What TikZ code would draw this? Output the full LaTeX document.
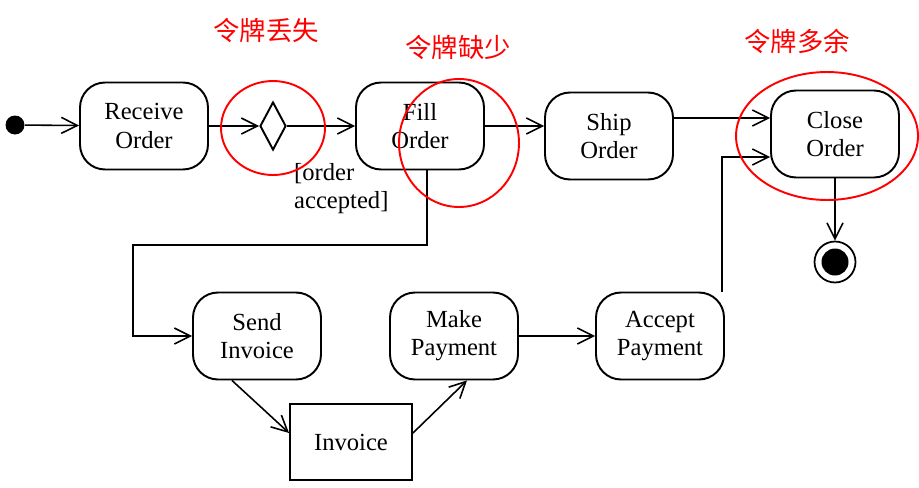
\documentclass[tikz,border=0pt]{standalone}
\usepackage{fontspec}
\setmainfont{Liberation Serif}
\newfontfamily\cjk{Noto Sans CJK SC}
\usepackage{xcolor}
\usepackage{tikz}
\usetikzlibrary{arrows.meta,shapes.geometric}
\definecolor{markred}{HTML}{FF0000}

\begin{document}
\begin{tikzpicture}[
  x=0.02cm, y=-0.02cm,
  activity/.style={
    rectangle,
    rounded corners=0.5cm,
    draw=black,
    line width=1.1pt,
    align=center,
    minimum width=2.56cm,
    minimum height=1.74cm,
    font=\fontsize{14}{16}\selectfont
  },
  objectbox/.style={
    rectangle,
    draw=black,
    line width=1.1pt,
    minimum width=2.44cm,
    minimum height=1.52cm,
    font=\fontsize{14}{16}\selectfont
  },
  decision/.style={
    diamond,
    draw=black,
    line width=1.1pt,
    inner sep=0pt,
    minimum width=0.52cm,
    minimum height=0.96cm
  },
  initial/.style={
    circle,
    fill=black,
    inner sep=0pt,
    minimum size=0.38cm
  },
  final/.style={
    circle,
    draw=black,
    line width=1pt,
    inner sep=0pt,
    minimum size=0.82cm,
    path picture={\fill (path picture bounding box.center) circle (0.27cm);}
  },
  token/.style={
    text=markred,
    font=\cjk\fontsize{15}{18}\selectfont
  },
  tokenring/.style={draw=markred, line width=1.1pt},
  arrow/.style={-{Straight Barb[length=3.2mm,width=3.2mm]}, line width=0.9pt}
]
\useasboundingbox (0,0) rectangle (919,487);

% activities
\node[initial] (start) at (15,125) {};
\node[activity] (recv) at (144,126) {Receive\\Order};
\node[decision] (dec) at (273,126) {};
\node[anchor=north west, align=left, font=\fontsize{14}{16}\selectfont] (guard) at (288,157) {[order\\accepted]};
\node[activity] (fill) at (420,126) {Fill\\Order};
\node[activity] (ship) at (609,136) {Ship\\Order};
\node[activity] (close) at (835,134) {Close\\Order};
\node[final] (stop) at (835,262) {};

\node[activity] (send) at (257,336) {Send\\Invoice};
\node[objectbox] (inv) at (351,442) {Invoice};
\node[activity] (make) at (454,336) {Make\\Payment};
\node[activity] (accept) at (660,336) {Accept\\Payment};

\coordinate (bend) at (133,245);

% flows
\draw[arrow] (start) -- (recv);
\draw[arrow] (recv) -- (dec);
\draw[arrow] (dec) -- (fill);
\draw[arrow] (fill.east) -- (fill.east -| ship.west);
\draw[arrow] ([yshift=0.36cm]ship.east) -- ([yshift=0.36cm]ship.east -| close.west);
\draw[arrow] (close.south) -- (stop.north);
\draw[arrow] ([xshift=0.14cm]fill.south) |- (bend) |- (send.west);
\draw[arrow] ([xshift=-0.5cm]send.south) -- ([yshift=0.18cm]inv.west);
\draw[arrow] ([yshift=0.18cm]inv.east) -- ([xshift=0.26cm]make.south);
\draw[arrow] (make) -- (accept);
\draw[arrow] ([xshift=-0.06cm]accept.north east) |- ([yshift=-0.46cm]close.west);

% token remarks
\draw[tokenring] (273,128) ellipse (1.04cm and 0.94cm);
\draw[tokenring] (459,143) ellipse (1.2cm and 1.28cm);
\draw[tokenring] (827,136) ellipse (1.82cm and 1.28cm);
\node[token] (lost) at (266,30) {令牌丢失};
\node[token] (short) at (458,47) {令牌缺少};
\node[token] (extra) at (797,41) {令牌多余};

\end{tikzpicture}
\end{document}
